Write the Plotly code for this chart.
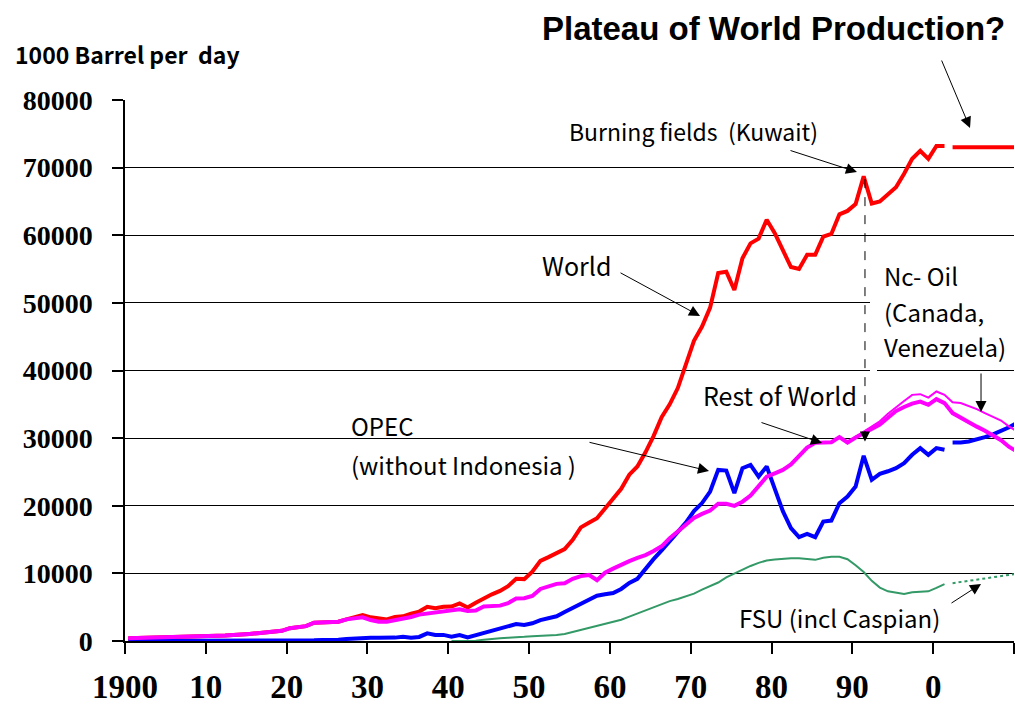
import plotly.graph_objects as go

# ---------------- data (1000 barrel per day) ----------------
years_hist = list(range(1900, 2002))
world = [400, 420, 450, 500, 550, 560, 580, 620, 650, 700,
         740, 760, 800, 930, 1000, 1050, 1150, 1250, 1350, 1500,
         1900, 2050, 2200, 2700, 2750, 2760, 2850, 3200, 3450, 3850,
         3500, 3300, 3200, 3550, 3650, 4050, 4350, 5050, 4850, 5050,
         5100, 5550, 4950, 5650, 6300, 6900, 7400, 8100, 9200, 9150,
         10250, 11850, 12400, 13000, 13600, 14950, 16800, 17500, 18150, 19600,
         21100, 22500, 24600, 25800, 27900, 30300, 33100, 35000, 37400, 40700,
         44400, 46500, 49300, 54400, 54600, 51900, 56600, 58800, 59500, 62300,
         60300, 57800, 55300, 55000, 57100, 57100, 59800, 60200, 63100, 63600,
         64600, 68700, 64700, 65000, 66100, 67100, 69100, 71300, 72500, 71300,
         73200, 73200]

plateau_years = [2002, 2010]
plateau = [73000, 73000]

opec = [0] * 23 + [100, 150, 150, 200, 300, 400, 490,
        490, 490, 490, 500, 640, 500, 600, 1130, 900, 900,
        650, 890, 540, 890, 1100, 1600, 1850, 2200, 2500, 2370,
        2620, 3100, 3350, 3650, 4300, 4900, 5400, 6000, 6700, 6900,
        7100, 7700, 8600, 9200, 10700, 12100, 13400, 14800, 16000, 17500,
        19200, 20400, 22100, 25300, 25200, 21860, 25560, 26050, 24320, 25800,
        22500, 19200, 16700, 15350, 15840, 15350, 17660, 17810, 20380, 21360,
        22840, 27380, 23830, 24720, 25100, 25560, 26300, 27530, 28520, 27530,
        28520, 28270]

years_proj = list(range(2002, 2011))
opec_proj = [29350, 29350, 29500, 29750, 30150, 30550, 31000, 31600, 32300]

years_row = list(range(1900, 2011))
rest_of_world = [400, 420, 450, 500, 550, 560, 580, 620, 650, 700,
                 740, 760, 800, 930, 1000, 1050, 1150, 1250, 1350, 1500,
                 1900, 2050, 2200, 2700, 2750, 2760, 2850, 3200, 3300, 3500,
                 3100, 2860, 2860, 3050, 3350, 3550, 3900, 4050, 4150, 4350,
                 4500, 4700, 4450, 4500, 5100, 5230, 5230, 5600, 6300, 6320,
                 6650, 7700, 8000, 8450, 8540, 9200, 9600, 9770, 9000, 10100,
                 10700, 11300, 11800, 12300, 12700, 13300, 14000, 15200, 16200, 17300,
                 18200, 18800, 19300, 20300, 20300, 19980, 20600, 21500, 23000, 24300,
                 24800, 25300, 26100, 27400, 28600, 29300, 29350, 29400, 30150, 29350,
                 30100, 30700, 31300, 32000, 33000, 34000, 34600, 35100, 35400, 34930,
                 35770, 35180, 33700, 33000, 32300, 31700, 31100, 30400, 29700, 28700,
                 28000]

years_nc = list(range(1990, 2011))
row_plus_nc = [30200, 31000, 31700, 32500, 33600, 34600, 35500, 36400, 36500, 36000,
               36900, 36400, 35300, 35200, 34800, 34300, 33700, 33200, 32600, 31700,
               31000]

years_fsu = list(range(1940, 2002))
fsu = [0, 0, 0, 50, 200, 350, 420, 480, 520, 620,
       720, 760, 790, 900, 1050, 1350, 1600, 1850, 2150, 2450,
       2800, 3150, 3600, 4050, 4450, 4900, 5400, 5900, 6200, 6550,
       7000, 7600, 8100, 8650, 9400, 10000, 10600, 11100, 11550, 11900,
       12050, 12200, 12250, 12250, 12150, 12000, 12300, 12450, 12450, 12100,
       11200, 10200, 8900, 7900, 7350, 7100, 6950, 7200, 7250, 7350,
       7850, 8400]
fsu_proj_years = [2002, 2010]
fsu_proj = [8550, 9950]

tick_years = [1900, 1910, 1920, 1930, 1940, 1950, 1960, 1970, 1980, 1990, 2000, 2010]
tick_text = ["1900", "10", "20", "30", "40", "50", "60", "70", "80", "90", "0", ""]
y_ticks = [0, 10000, 20000, 30000, 40000, 50000, 60000, 70000, 80000]

# annual values are drawn mid-category, ticks sit on category boundaries
cat_offset = 0.4
x_range = [tick_years[0] - cat_offset, tick_years[-1] - cat_offset]

RED = "#FF0000"
MAG = "#FF00FF"
BLUE = "#0000FF"
GREEN = "#339966"

fig = go.Figure()
fig.add_trace(go.Scatter(x=years_hist, y=world, mode="lines", line=dict(color=RED, width=4)))
fig.add_trace(go.Scatter(x=plateau_years, y=plateau, mode="lines", line=dict(color=RED, width=4)))
fig.add_trace(go.Scatter(x=years_fsu, y=fsu, mode="lines", line=dict(color=GREEN, width=2)))
fig.add_trace(go.Scatter(x=fsu_proj_years, y=fsu_proj, mode="lines", line=dict(color=GREEN, width=2, dash="dot")))
fig.add_trace(go.Scatter(x=years_hist, y=opec, mode="lines", line=dict(color=BLUE, width=4)))
fig.add_trace(go.Scatter(x=years_proj, y=opec_proj, mode="lines", line=dict(color=BLUE, width=4)))
fig.add_trace(go.Scatter(x=years_nc, y=row_plus_nc, mode="lines", line=dict(color=MAG, width=2)))
fig.add_trace(go.Scatter(x=years_row, y=rest_of_world, mode="lines", line=dict(color=MAG, width=4)))

# ---------- layout helpers (pixel -> paper) ----------
L, R, T, B = 125, 1, 100, 67
W, H = 1015, 708
PW, PH = W - L - R, H - T - B


def xp(px):
    return (px - L) / PW


def yp(py):
    return (H - B - py) / PH


TXT = "Noto Sans CJK KR"
annotations = []


def label(text, px, py, size=24, weight="normal", family=TXT):
    annotations.append(dict(text=text, x=xp(px), y=yp(py), xref="paper", yref="paper",
                            xanchor="left", yanchor="middle", showarrow=False,
                            font=dict(family=family, size=size, color="black", weight=weight)))


def arrow(x, y, ax, ay):
    annotations.append(dict(text="", x=x, y=y, ax=ax, ay=ay, xref="x", yref="y",
                            axref="x", ayref="y", showarrow=True, arrowhead=2,
                            arrowsize=2.2, arrowwidth=1, arrowcolor="black"))


label("Plateau of World Production?", 540, 29, size=33, weight="bold", family="Liberation Sans, Arial")
label("1000 Barrel per  day", 13, 54, size=23, weight="bold")
label("Burning fields  (Kuwait)", 567, 131, size=23)
label("World", 540, 265, size=25)
label("OPEC", 349, 425, size=24)
label("(without Indonesia )", 349, 464, size=24)
label("Rest of World", 701, 395, size=25)
label("Nc- Oil", 882, 275, size=24)
label("(Canada,", 882, 311, size=24)
label("Venezuela)", 882, 346, size=24)
label("FSU (incl Caspian)", 737, 617, size=24)

arrow(2004.16, 75860, 2000.57, 86060)   # plateau
arrow(1990.17, 69350, 1981.76, 72600)   # burning fields
arrow(1970.75, 48060, 1960.73, 54560)   # world
arrow(1971.86, 25140, 1956.89, 29430)   # opec
arrow(1985.84, 29280, 1978.17, 32380)   # rest of world
arrow(2005.52, 33860, 2005.52, 39780)   # nc-oil
arrow(2005.52, 8430, 2001.68, 5470)     # fsu
annotations.append(dict(text="", x=1991.16, y=29500, ax=0, ay=-12, xref="x", yref="y",
                        showarrow=True, arrowhead=2, arrowsize=2.0, arrowwidth=1,
                        arrowcolor="black"))

shapes = [
    dict(type="rect", xref="paper", yref="paper", x0=xp(870), x1=xp(1016), y0=yp(376), y1=yp(252),
         fillcolor="white", line=dict(width=0), layer="above"),
    dict(type="line", xref="paper", yref="y", x0=xp(877), x1=1.0, y0=40000, y1=40000,
         line=dict(color="black", width=1), layer="above"),
    dict(type="line", xref="x", yref="y", x0=1991.16, x1=1991.16, y0=68300, y1=31000,
         line=dict(color="black", width=1, dash="dash"), layer="above"),
]

fig.update_layout(
    width=W, height=H,
    margin=dict(l=L, r=R, t=T, b=B, pad=0, autoexpand=False),
    paper_bgcolor="white", plot_bgcolor="white",
    showlegend=False,
    annotations=annotations,
    shapes=shapes,
    xaxis=dict(range=x_range, tickmode="array", automargin=False,
               tickvals=[t - cat_offset for t in tick_years], ticktext=tick_text,
               showgrid=False, zeroline=False, showline=True, linecolor="black", linewidth=1.5,
               ticks="outside", ticklen=11, tickwidth=1.5, tickcolor="black",
               ticklabelstandoff=5,
               tickfont=dict(family="Liberation Serif, Times New Roman", size=33,
                             color="black", weight="bold")),
    yaxis=dict(range=[0, 80000], tickmode="array", tickvals=y_ticks, automargin=False,
               ticktext=[str(v) for v in y_ticks],
               showgrid=True, gridcolor="black", gridwidth=1,
               zeroline=False, showline=True, linecolor="black", linewidth=1.5,
               ticks="outside", ticklen=11, tickwidth=1.5, tickcolor="black",
               ticklabelstandoff=14,
               tickfont=dict(family="Liberation Serif, Times New Roman", size=28,
                             color="black", weight="bold")),
)

fig.write_html("out.html", config={"displayModeBar": False},
               post_script="document.body.style.margin='0';document.body.style.overflow='hidden';")
